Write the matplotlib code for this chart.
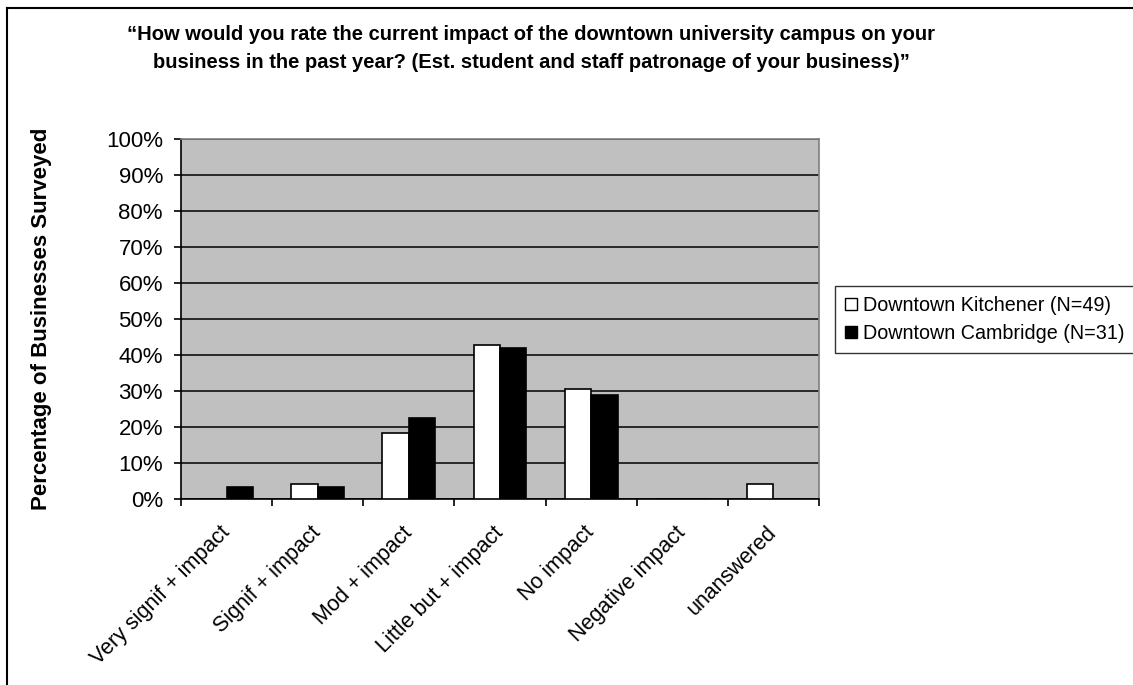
import matplotlib.pyplot as plt
import numpy as np
from matplotlib.lines import Line2D

# Survey data (share of businesses, %)
categories = ["Very signif + impact", "Signif + impact", "Mod + impact",
              "Little but + impact", "No impact", "Negative impact", "unanswered"]
kitchener = [0.0, 4.1, 18.4, 42.9, 30.6, 0.0, 4.1]
cambridge = [3.2, 3.2, 22.6, 41.9, 29.0, 0.0, 0.0]
series_names = ["Downtown Kitchener (N=49)", "Downtown Cambridge (N=31)"]
y_ticks = list(range(0, 101, 10))

plt.rcParams.update({
    'font.family': ['Liberation Sans', 'DejaVu Sans'],
    'font.size': 16,
})

W, H = 1133, 685
fig = plt.figure(figsize=(W / 100, H / 100), dpi=100)
ax = fig.add_axes([181 / W, 1 - 499 / H, 638 / W, 360 / H])
ax.set_facecolor('#C0C0C0')

x = np.arange(len(categories))
bw = 0.29
ax.bar(x - bw / 2, kitchener, bw, color='white', edgecolor='black', linewidth=1.2, zorder=3)
ax.bar(x + bw / 2, cambridge, bw, color='black', edgecolor='black', linewidth=1.2, zorder=3)

ax.set_xlim(-0.5, len(categories) - 0.5)
ax.set_ylim(0, 100)
ax.set_yticks(y_ticks)
ax.set_yticklabels([f"{t}%" for t in y_ticks])
ax.yaxis.grid(True, color='black', linewidth=1.1, zorder=1)
ax.set_axisbelow(True)

# category labels centred under groups, ticks on the group boundaries
ax.set_xticks(x)
ax.set_xticklabels(categories, rotation=45, ha='right', va='center',
                   rotation_mode='anchor', fontsize=15.5)
ax.set_xticks(np.arange(len(categories) + 1) - 0.5, minor=True)
ax.tick_params(axis='x', which='major', length=0, pad=22)
ax.tick_params(axis='x', which='minor', length=5, width=1.2, direction='out')
ax.tick_params(axis='y', length=5, width=1.2, direction='out', pad=8)

for side in ('top', 'right'):
    ax.spines[side].set_color('#808080')
    ax.spines[side].set_linewidth(1.2)
for side in ('left', 'bottom'):
    ax.spines[side].set_color('black')
    ax.spines[side].set_linewidth(1.2)

fig.text(42 / W, 1 - 319 / H, "Percentage of Businesses Surveyed", rotation=90,
         ha='center', va='center', fontweight='bold', fontsize=16)

fig.text(531 / W, 1 - 48 / H,
         "\u201cHow would you rate the current impact of the downtown university campus on your\n"
         "business in the past year? (Est. student and staff patronage of your business)\u201d",
         ha='center', va='center', fontweight='bold', fontsize=14.5, linespacing=1.6)

handles = [
    Line2D([], [], linestyle='none', marker='s', markersize=8, markerfacecolor='white',
           markeredgecolor='black', markeredgewidth=1),
    Line2D([], [], linestyle='none', marker='s', markersize=8, markerfacecolor='black',
           markeredgecolor='black', markeredgewidth=1),
]
leg = fig.legend(handles, series_names, loc='upper left',
                 bbox_to_anchor=(835 / W, 1 - 286 / H), bbox_transform=fig.transFigure,
                 borderaxespad=0, fancybox=False, frameon=True, handlelength=0.6,
                 handletextpad=0.3, borderpad=0.5, labelspacing=0.45, fontsize=14.2)
leg.get_frame().set_edgecolor('black')
leg.get_frame().set_linewidth(1.0)

# outer chart border
fig.add_artist(Line2D([7 / W, 7 / W], [0, 1 - 8 / H], color='black', linewidth=1.5,
                      transform=fig.transFigure))
fig.add_artist(Line2D([7 / W, 1], [1 - 8 / H, 1 - 8 / H], color='black', linewidth=1.5,
                      transform=fig.transFigure))

fig.savefig('out.png', dpi=100)
